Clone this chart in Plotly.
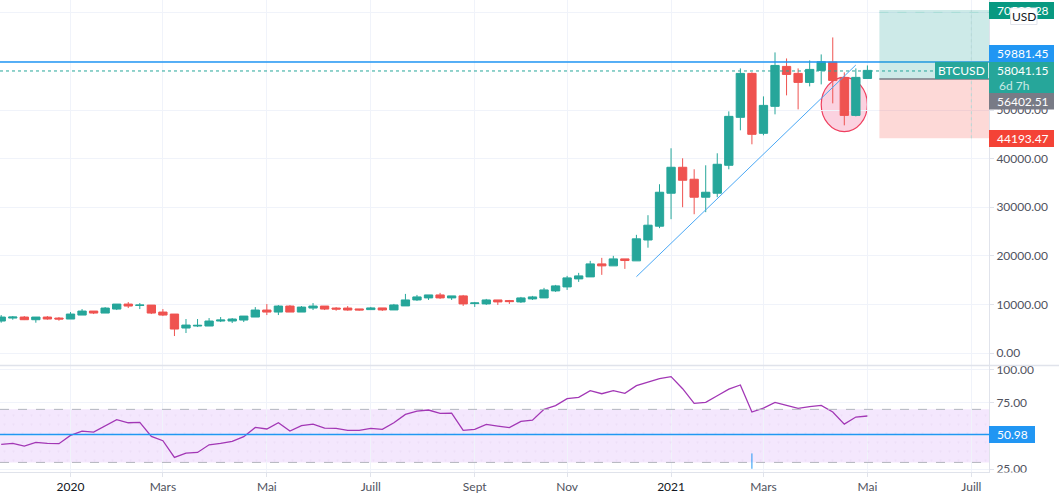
import pandas as pd
import plotly.graph_objects as go
from plotly.subplots import make_subplots

# weekly BTCUSD candles
weeks = pd.date_range("2019-11-25", periods=76, freq="7D")

opens = [6576, 7190, 7398, 6850, 7398, 7190, 6990, 7810, 8630, 8220, 9040, 10070, 9800, 9860, 8425, 8015,
         5140, 5550, 5550, 6580, 6580, 6780, 7400, 8840, 8425, 9660, 8425, 9250, 9660, 9250, 9250,
         9070, 8930, 9275, 8860, 9690, 10920, 11335, 11950, 11335, 11750, 10170, 10100, 10920, 10790,
         10510, 11130, 11335, 12780, 13600, 15250, 15660, 18340, 17930, 19370, 18960, 23255, 26100,
         32880, 38220, 35760, 32060, 32880, 38630, 48500, 57540, 45210, 50760, 58980, 57540, 55690,
         58160, 59870, 56720, 48900, 56500]
highs = [7809, 7600, 7600, 7398, 7600, 7398, 8425, 9040, 8630, 9450, 10070, 10480, 10275, 9860, 9040, 8015,
         6990, 6990, 7190, 7400, 7190, 7600, 9450, 10070, 9860, 9860, 9660, 10275, 9660, 9450, 9660,
         9070, 9480, 9275, 10100, 12160, 11950, 11950, 12370, 11750, 11950, 10510, 11130, 10920, 10920,
         11540, 11750, 13400, 14015, 15870, 16490, 18960, 19580, 19990, 19370, 24320, 28360, 34730,
         42130, 40070, 37810, 38630, 41100, 49730, 58570, 57750, 52810, 61860, 60620, 58570, 60210,
         61450, 64940, 57750, 58570, 59180]
lows = [6233, 6850, 6780, 6233, 6850, 6645, 6990, 7810, 8015, 8220, 8840, 9250, 9040, 8015, 7600, 3490,
        4110, 5340, 5550, 6370, 6165, 6370, 7400, 7810, 7810, 8425, 8425, 8840, 8840, 8700, 8700,
        8725, 8930, 8660, 8860, 9690, 10720, 10920, 11130, 10920, 9690, 9480, 9890, 9890, 10100,
        10300, 10920, 11335, 12570, 12980, 14630, 15660, 16080, 17930, 17310, 18960, 21670, 25690,
        27540, 30000, 28560, 28980, 32060, 37810, 45830, 42950, 44800, 49115, 53020, 50140, 54870,
        55280, 51375, 46850, 48700, 56500]
closes = [7398, 7398, 6850, 7398, 6990, 6990, 8015, 8630, 8220, 9250, 10070, 9660, 9860, 8220, 7810, 4930,
          5750, 5690, 6580, 6780, 6990, 7600, 8840, 8425, 9660, 8425, 9450, 9660, 9040, 9040, 8840,
          8860, 9275, 8860, 9890, 10920, 11540, 11950, 11335, 11750, 10100, 10300, 10920, 10510, 10580,
          11335, 11540, 12980, 13810, 15460, 15870, 18340, 17930, 19370, 19030, 23495, 26300, 33085,
          38220, 35550, 32060, 33085, 38840, 48700, 57540, 45000, 50960, 59180, 57330, 55690, 58360,
          59940, 56100, 48900, 56720, 58160]

rsi = [43.6, 44.3, 42.3, 45.1, 44.3, 44.1, 50.4, 53.6, 52.9, 57.7, 62.2, 59.9, 60.2, 49.6, 46.4, 33.8,
       37.0, 37.5, 43.3, 44.3, 45.8, 49.4, 56.4, 55.2, 59.9, 53.6, 57.7, 58.9, 55.9, 55.7, 54.2,
       54.2, 55.7, 54.9, 59.9, 66.2, 68.7, 69.5, 67.0, 67.2, 54.2, 54.9, 58.7, 57.4, 56.2, 60.9,
       61.9, 70.0, 72.8, 78.1, 79.0, 84.1, 81.8, 84.1, 82.1, 87.9, 90.4, 93.1, 94.7, 85.6, 74.5,
       75.3, 80.3, 85.3, 88.4, 68.0, 71.0, 75.3, 73.0, 70.8, 72.0, 73.0, 68.0, 58.9, 64.2, 65.0]

tick_dates = ["2020-01-06", "2020-03-02", "2020-05-04", "2020-07-06", "2020-09-07",
              "2020-11-02", "2021-01-04", "2021-03-01", "2021-05-03", "2021-07-05"]
tick_labels = ['<span style="color:#131722">2020</span>', "Mars", "Mai", "Juill", "Sept", "Nov",
               '<span style="color:#131722">2021</span>', "Mars", "Mai", "Juill"]
price_ticks = [0, 10000, 20000, 30000, 40000, 50000, 60000, 70000]
rsi_ticks = [25, 50, 75, 100]

trend_dates = ["2020-12-14", "2021-04-26"]
trend_prices = [15700, 59270]

last_price = 58041.15
top_line = 59881.45
target = 70590.28
entry = 56402.51
stop = 44193.47
rsi_level = 50.98

UP = "#26a69a"
DOWN = "#ef5350"
GRID = "#f0f3fa"
BORDER = "#e0e3eb"
TEXT = "#50535e"

W, H = 1059, 499


def px(x):
    return x / W


def py(y):
    return 1 - y / H


x_start = pd.Timestamp("2020-01-06") + pd.Timedelta(days=-42.73)
x_end = pd.Timestamp("2020-01-06") + pd.Timedelta(days=556.7)

fig = make_subplots(rows=2, cols=1, shared_xaxes=True)

fig.add_trace(go.Candlestick(
    x=weeks, open=opens, high=highs, low=lows, close=closes,
    increasing=dict(line=dict(color=UP, width=1), fillcolor=UP),
    decreasing=dict(line=dict(color=DOWN, width=1), fillcolor=DOWN),
    whiskerwidth=0, showlegend=False,
), row=1, col=1)

# the dotted candle inside the circle
fig.add_trace(go.Bar(
    x=[weeks[74]], y=[closes[74] - opens[74]], base=[opens[74]],
    width=[4.7e8],
    marker=dict(color="rgba(0,0,0,0)", line=dict(width=0),
                pattern=dict(shape=".", fgcolor="#37615e", bgcolor="rgba(0,0,0,0)", size=4, solidity=0.3)),
    showlegend=False,
), row=1, col=1)

fig.add_trace(go.Scatter(
    x=trend_dates, y=trend_prices, mode="lines",
    line=dict(color="#4aa8f5", width=1), showlegend=False,
), row=1, col=1)

# faint dots inside the RSI band
fig.add_trace(go.Bar(
    x=[x_start + (x_end - x_start) / 2], y=[40], base=[30],
    width=[(x_end - x_start).total_seconds() * 1000],
    marker=dict(color="rgba(0,0,0,0)", line=dict(width=0),
                pattern=dict(shape=".", fgcolor="#e8d8f2", bgcolor="rgba(0,0,0,0)", size=9, solidity=0.05)),
    showlegend=False,
), row=2, col=1)

fig.add_trace(go.Scatter(
    x=weeks, y=rsi, mode="lines",
    line=dict(color="#a237b5", width=1.3), showlegend=False,
), row=2, col=1)

# small blue mark at the bottom of the RSI pane
fig.add_trace(go.Scatter(
    x=[weeks[65], weeks[65]], y=[36.8, 25.2], mode="lines",
    line=dict(color="#2196f3", width=1), showlegend=False,
), row=2, col=1)

fig.update_xaxes(
    range=[x_start, x_end], tickvals=tick_dates, showgrid=True, gridcolor=GRID, gridwidth=1,
    zeroline=False, rangeslider_visible=False, domain=[0, 989 / W],
)
fig.update_xaxes(showticklabels=False, ticks="", row=1, col=1)
fig.update_xaxes(
    ticktext=tick_labels, ticks="outside", ticklen=4, tickcolor=BORDER, tickfont=dict(size=12, color=TEXT),
    showline=True, linecolor=BORDER, row=2, col=1,
)
fig.update_yaxes(
    side="right", showgrid=True, gridcolor=GRID, zeroline=False, showline=True, linecolor=BORDER,
    ticks="outside", ticklen=4, tickcolor=BORDER, tickfont=dict(size=12, color=TEXT), tickformat=".2f",
)
fig.update_yaxes(range=[-2470, 72647], tickvals=price_ticks, domain=[py(365), 1], row=1, col=1)
fig.update_yaxes(range=[23.0, 102.7], tickvals=rsi_ticks, domain=[py(471.7), py(366)], row=2, col=1)

# RSI band
fig.add_hrect(y0=30, y1=70, fillcolor="rgba(165,60,240,0.12)", line_width=0, layer="below", row=2, col=1)
for level in [30, 70]:
    fig.add_hline(y=level, line=dict(color="#b2b5be", width=1, dash="dash"), row=2, col=1)
fig.add_hline(y=rsi_level, line=dict(color="#2196f3", width=1.5), row=2, col=1)

# price lines
fig.add_hline(y=top_line, line=dict(color="#2196f3", width=1.5), row=1, col=1)
fig.add_hline(y=last_price, line=dict(color=UP, width=1, dash="dot"), row=1, col=1)

# long / short position boxes
fig.add_shape(type="rect", xref="paper", yref="y", x0=px(879.4), x1=px(989), y0=entry, y1=target,
              fillcolor="rgba(38,166,154,0.23)", line_width=0)
fig.add_shape(type="rect", xref="paper", yref="y", x0=px(879.4), x1=px(989), y0=stop, y1=entry,
              fillcolor="rgba(244,67,54,0.2)", line_width=0)
fig.add_shape(type="line", xref="paper", yref="y", x0=px(879.4), x1=px(989), y0=entry, y1=entry,
              line=dict(color="#787b86", width=1.5))
fig.add_shape(type="line", xref="paper", yref="y", x0=px(879.4), x1=px(989), y0=70100, y1=70100,
              line=dict(color="#a8dcd7", width=1, dash="dash"))
fig.add_shape(type="line", xref="x", yref="y", x0="2021-07-05", x1="2021-07-05", y0=stop, y1=target,
              line=dict(color="#b7d9d6", width=1, dash="dot"))
# circle around the last candles, behind them
fig.add_shape(type="circle", xref="x", yref="y", x0="2021-04-05", x1="2021-05-03", y0=45560, y1=56730,
              fillcolor="rgba(233,30,99,0.2)", line=dict(color="#ef3f5f", width=1.2), layer="below")
# pane divider
fig.add_shape(type="line", xref="paper", yref="paper", x0=0, x1=1, y0=py(365.5), y1=py(365.5),
              line=dict(color=BORDER, width=1.5))
# the 25.00 label is cut at the pane edge
fig.add_shape(type="rect", xref="paper", yref="paper", x0=px(994), x1=1, y0=py(477), y1=py(472.5),
              fillcolor="white", line_width=0)

# boxes of the price labels: left, right, top, bottom, colour
label_boxes = [
    (989, 1054, 2, 19, "#089981"),
    (989, 1054, 45, 62, "#2196f3"),
    (989, 1054, 62, 93, UP),
    (935, 988, 62, 79, UP),
    (989, 1054, 93, 109.5, "#787b86"),
    (989, 1054, 130, 147, "#f44336"),
    (989, 1035, 426, 443, "#2196f3"),
]
for x0, x1, y0, y1, color in label_boxes:
    fig.add_shape(type="rect", xref="paper", yref="paper", x0=px(x0), x1=px(x1), y0=py(y1), y1=py(y0),
                  fillcolor=color, line_width=0)

fig.add_shape(type="rect", xref="paper", yref="paper", x0=px(1010.6), x1=px(1037), y0=py(24.5), y1=py(8),
              fillcolor="white", line=dict(color=BORDER, width=1))

# label texts: text, centre x, centre y, colour
label_texts = [
    ("70590.28", 1023.5, 10.5, "white"),
    (f"{top_line:.2f}", 1023.5, 53.5, "white"),
    (f"{last_price:.2f}", 1023.5, 70.5, "white"),
    ("6d 7h", 1014, 85, "#c9e9e6"),
    ("BTCUSD", 961.5, 70.5, "white"),
    (f"{entry:.2f}", 1023.5, 101.5, "white"),
    (f"{stop:.2f}", 1023.5, 138.5, "white"),
    (f"{rsi_level:.2f}", 1012, 434.5, "white"),
    ("USD", 1024, 16, "#131722"),
]
for text, x, y, color in label_texts:
    fig.add_annotation(text=text, xref="paper", yref="paper", x=px(x), y=py(y), showarrow=False,
                       xanchor="center", yanchor="middle", font=dict(size=12, color=color))

fig.update_layout(
    width=W, height=H, margin=dict(l=0, r=0, t=0, b=0, pad=0, autoexpand=False),
    paper_bgcolor="white", plot_bgcolor="white", showlegend=False, boxgap=0.28, boxgroupgap=0,
    font=dict(family="Lato", size=12, color=TEXT),
)

fig.write_html("out.html", config={"displayModeBar": False},
               post_script="document.body.style.margin='0';")
